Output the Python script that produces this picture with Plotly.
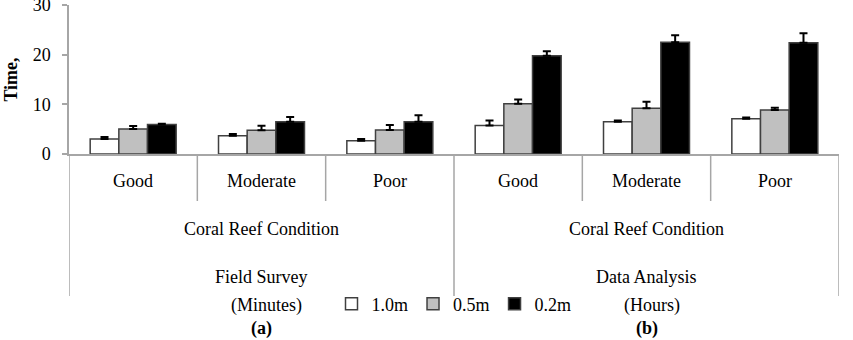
import plotly.graph_objects as go

# ---------------- data ----------------
groups = ["Field Survey", "Data Analysis"]
units = ["(Minutes)", "(Hours)"]
panel_labels = ["(a)", "(b)"]
conditions = ["Good", "Moderate", "Poor"]
series_names = ["1.0m", "0.5m", "0.2m"]

val_10 = [3.0, 3.65, 2.65, 5.75, 6.5, 7.1]
val_05 = [5.05, 4.8, 4.85, 10.1, 9.2, 8.85]
val_02 = [5.95, 6.5, 6.5, 19.8, 22.5, 22.4]
err_10 = [0.4, 0.4, 0.35, 1.0, 0.25, 0.25]
err_05 = [0.6, 0.9, 1.0, 0.85, 1.3, 0.45]
err_02 = [0.15, 0.95, 1.3, 0.9, 1.4, 1.9]

y_ticks = [0, 10, 20, 30]

# ---------------- figure ----------------
x_keys = [f"{g} – {c}" for g in groups for c in conditions]
fills = ["#ffffff", "#c0c0c0", "#000000"]
FONT = "Liberation Serif, Times New Roman, serif"
FS = 18

W, H = 853, 340
ML, MR, MT, MB = 69, 14, 5, 186
plot_h = H - MT - MB
plot_w = W - ML - MR


def py(pix):
    """pixel y -> paper y"""
    return (H - MB - pix) / plot_h


def px(pix):
    """pixel x -> paper x"""
    return (pix - ML) / plot_w


fig = go.Figure()
for name, vals, errs, col in zip(series_names, [val_10, val_05, val_02],
                                  [err_10, err_05, err_02], fills):
    fig.add_trace(go.Bar(
        x=x_keys, y=vals, name=name,
        marker=dict(color=col, line=dict(color="#404040", width=1.5)),
        error_y=dict(type="data", symmetric=False, array=errs,
                     arrayminus=[0] * len(errs), color="#000000",
                     thickness=2, width=4),
    ))

line_col = "#a6a6a6"
shapes = []
# outer group separators (full height)
for i in range(len(groups) + 1):
    xi = i * len(conditions) - 0.5
    shapes.append(dict(type="line", xref="x", yref="paper", x0=xi, x1=xi,
                       y0=0, y1=py(296), line=dict(color=line_col, width=1.5)))
# inner condition separators
for gi in range(len(groups)):
    for ci in range(1, len(conditions)):
        xi = gi * len(conditions) + ci - 0.5
        shapes.append(dict(type="line", xref="x", yref="paper", x0=xi, x1=xi,
                           y0=0, y1=py(201), line=dict(color=line_col, width=1.5)))

annotations = []
for k in x_keys:
    annotations.append(dict(x=k, xref="x", y=py(181), yref="paper",
                            text=k.split(" – ")[1], showarrow=False,
                            yanchor="middle", font=dict(size=FS)))
for gi, g in enumerate(groups):
    xc = gi * len(conditions) + (len(conditions) - 1) / 2
    annotations.append(dict(x=xc, xref="x", y=py(229), yref="paper",
                            text="Coral Reef Condition", showarrow=False,
                            yanchor="middle", font=dict(size=FS)))
    annotations.append(dict(x=xc, xref="x", y=py(277), yref="paper",
                            text=g, showarrow=False,
                            yanchor="middle", font=dict(size=FS)))
    annotations.append(dict(x=xc + 0.04, xref="x", y=py(305), yref="paper",
                            text=units[gi], showarrow=False,
                            yanchor="middle", font=dict(size=FS)))
    annotations.append(dict(x=xc, xref="x", y=py(328), yref="paper",
                            text=f"<b>{panel_labels[gi]}</b>", showarrow=False,
                            yanchor="middle", font=dict(size=FS)))

fig.update_layout(
    width=W, height=H,
    margin=dict(l=ML, r=MR, t=MT, b=MB, pad=0, autoexpand=False),
    paper_bgcolor="white", plot_bgcolor="white",
    font=dict(family=FONT, size=FS, color="#000000"),
    barmode="group", bargap=0.33, bargroupgap=0,
    showlegend=True,
    legend=dict(orientation="h", x=px(454), xanchor="center",
                y=py(304), yanchor="middle", font=dict(size=FS),
                itemwidth=30, tracegroupgap=0, bgcolor="rgba(0,0,0,0)"),
    shapes=shapes, annotations=annotations,
)
fig.update_xaxes(showticklabels=False, ticks="", showline=True,
                 linecolor=line_col, linewidth=1.5, showgrid=False,
                 zeroline=False, range=[-0.5, len(x_keys) - 0.5],
                 automargin=False)
fig.update_yaxes(range=[0, 30], tickvals=y_ticks, ticks="outside", ticklen=5,
                 tickcolor=line_col, tickwidth=1.5,
                 showline=True, linecolor=line_col, linewidth=1.5,
                 showgrid=False, zeroline=False, ticklabelstandoff=8,
                 ticklabeloverflow="allow", automargin=False,
                 tickfont=dict(size=FS),
                 title=dict(text="<b>Time,</b>", standoff=10,
                            font=dict(size=FS)))

fig.write_html("out.html")
